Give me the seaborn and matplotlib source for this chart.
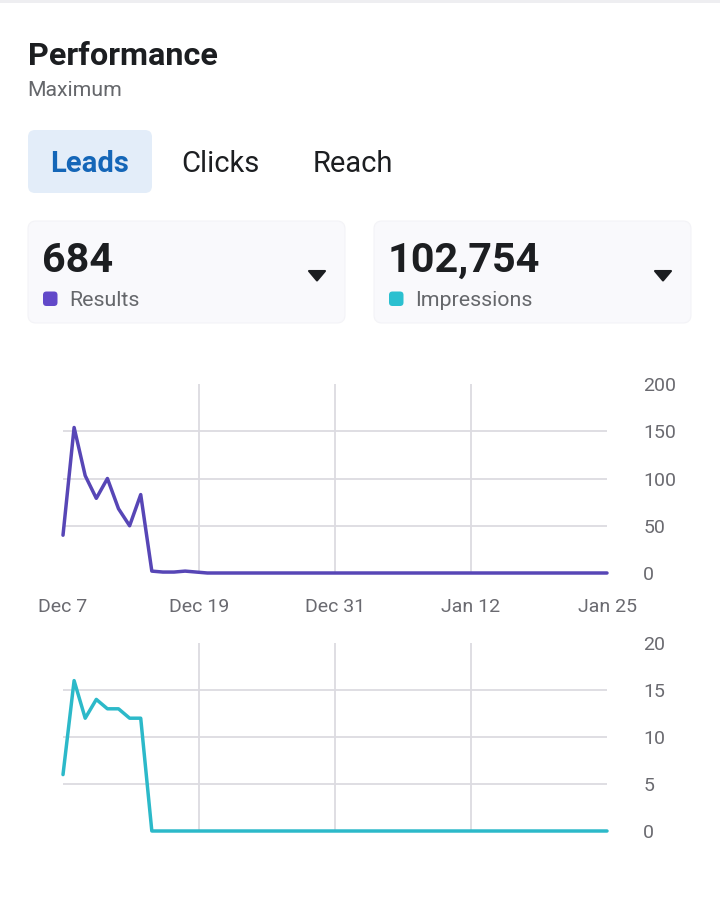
import matplotlib
matplotlib.use("Agg")
import matplotlib.pyplot as plt
from matplotlib.patches import FancyBboxPatch, Polygon, Rectangle
import seaborn as sns
import numpy as np
import pandas as pd

# ---------------- data ----------------
dates = pd.date_range("2024-12-07", "2025-01-25", freq="D")
results = [40, 154, 103, 79, 100, 68, 50, 83, 2, 1, 1, 2, 1,
           0, 0, 0, 0, 0, 0, 0, 0, 0, 0, 0, 0, 0, 0, 0, 0, 0, 0, 0,
           0, 0, 0, 0, 0, 0, 0, 0, 0, 0, 0, 0, 0, 0, 0, 0, 0, 0]
impressions = [6, 16, 12, 14, 13, 13, 12, 12, 0, 0, 0, 0, 0,
               0, 0, 0, 0, 0, 0, 0, 0, 0, 0, 0, 0, 0, 0, 0, 0, 0, 0, 0,
               0, 0, 0, 0, 0, 0, 0, 0, 0, 0, 0, 0, 0, 0, 0, 0, 0, 0]
x_tick_labels = ["Dec 7", "Dec 19", "Dec 31", "Jan 12", "Jan 25"]
results_ticks = [0, 50, 100, 150, 200]
impr_ticks = [0, 5, 10, 15, 20]
tabs = ["Leads", "Clicks", "Reach"]
total_results = "684"
total_impressions = "102,754"

PURPLE = "#5746b6"
PURPLE_DOT = "#6249c9"
TEAL = "#2cb9c9"
TEAL_DOT = "#2bc0d0"
GRID = "#dcdbe1"
TICK = "#6a6a70"
DARK = "#1c1e21"

sns.set_theme(style="white")
plt.rcParams["font.family"] = ["Roboto", "DejaVu Sans"]

W, H = 720, 906
fig = plt.figure(figsize=(W / 100, H / 100), dpi=100)
fig.patch.set_facecolor("white")

# overlay axes in pixel coordinates
ov = fig.add_axes([0, 0, 1, 1])
ov.set_xlim(0, W)
ov.set_ylim(H, 0)
ov.axis("off")
ov.patch.set_alpha(0)

ov.add_patch(Rectangle((0, 0), W, 3, color="#eeeef1", lw=0))
ov.text(28, 65, "Performance", fontsize=23.3, fontweight="bold", color=DARK, va="baseline")
ov.text(27.5, 96.5, "Maximum", fontsize=15.3, color="#65676b", va="baseline")

# tabs
ov.add_patch(FancyBboxPatch((28, 130), 124, 63, boxstyle="round,pad=0,rounding_size=7",
                            fc="#e3edf9", ec="none"))
tab_x = [89.5, 220.5, 352.5]
for i, (t, xx) in enumerate(zip(tabs, tab_x)):
    ov.text(xx, 172.5, t, fontsize=21, ha="center", va="baseline",
            fontweight="bold" if i == 0 else "normal",
            color="#1466b8" if i == 0 else DARK)

# cards
cards = [(28, total_results, "Results", PURPLE_DOT), (374, total_impressions, "Impressions", TEAL_DOT)]
for cx, val, lab, col in cards:
    ov.add_patch(FancyBboxPatch((cx, 221), 317, 102, boxstyle="round,pad=0,rounding_size=8",
                                fc="#f9f9fc", ec="#f3f3f7", lw=0.8))
    ov.text(cx + 14, 272, val, fontsize=29.8, fontweight="bold", color=DARK, va="baseline")
    ov.add_patch(FancyBboxPatch((cx + 15, 291.5), 14.5, 14.5, boxstyle="round,pad=0,rounding_size=3.5",
                                fc=col, ec="none"))
    ov.text(cx + 41.5, 306, lab, fontsize=15.4, color="#65676b", va="baseline")
    ov.add_patch(Polygon([[cx + 281, 271], [cx + 297, 271], [cx + 289, 280.5]], closed=True,
                         fc=DARK, ec=DARK, lw=1.5, joinstyle="round"))

# ---------------- charts ----------------
x = (dates - dates[0]).days.to_numpy()
tick_pos = np.linspace(x[0], x[-1], len(x_tick_labels))


def style_chart(ax, yticks, show_x):
    ax.set_xlim(x[0], x[-1])
    ax.set_ylim(yticks[0], yticks[-1])
    for s in ax.spines.values():
        s.set_visible(False)
    ax.xaxis.remove_overlapping_locs = False
    ax.yaxis.remove_overlapping_locs = False
    ax.yaxis.tick_right()
    ax.set_yticks(yticks)
    ax.set_yticklabels([str(v) for v in yticks])
    ax.set_yticks(yticks[1:-1], minor=True)
    ax.set_xticks(tick_pos)
    ax.set_xticks(tick_pos[1:-1], minor=True)
    if show_x:
        ax.set_xticklabels(x_tick_labels)
    else:
        ax.set_xticklabels([])
    ax.tick_params(axis="y", which="major", length=0, pad=26, labelsize=14, labelcolor=TICK)
    ax.tick_params(axis="x", which="major", length=0, pad=18, labelsize=14, labelcolor=TICK)
    ax.tick_params(which="minor", length=0)
    ax.grid(False)
    ax.grid(True, which="minor", color=GRID, linewidth=1.3)
    ax.set_axisbelow(True)
    ax.set_xlabel("")
    ax.set_ylabel("")
    ax.patch.set_alpha(0)


ax1 = fig.add_axes([63 / W, 1 - 573 / H, 544 / W, 189 / H])
sns.lineplot(x=x, y=results, ax=ax1, color=PURPLE, linewidth=2.5)
ax1.lines[-1].set_clip_on(False)
style_chart(ax1, results_ticks, True)

ax2 = fig.add_axes([63 / W, 1 - 831 / H, 544 / W, 188 / H])
sns.lineplot(x=x, y=impressions, ax=ax2, color=TEAL, linewidth=2.5)
ax2.lines[-1].set_clip_on(False)
style_chart(ax2, impr_ticks, False)

fig.savefig("out.png", dpi=100)
